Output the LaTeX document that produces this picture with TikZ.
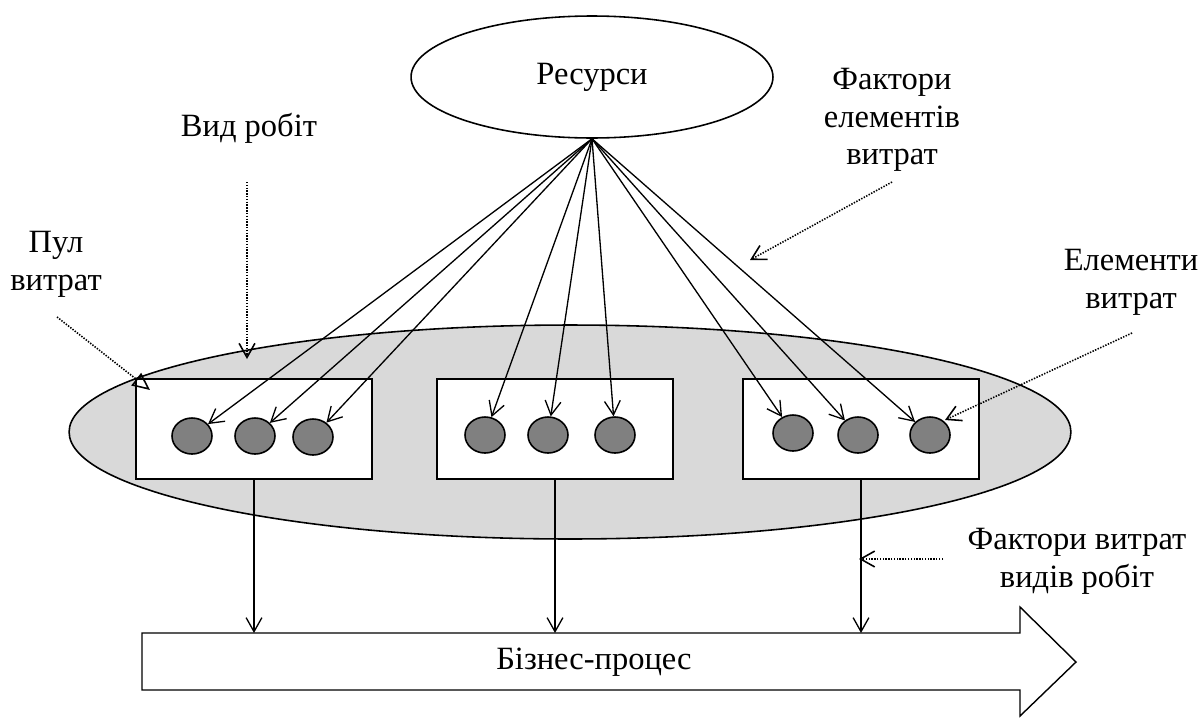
\documentclass[tikz,border=0pt]{standalone}
\usepackage{fontspec}
\setmainfont{Liberation Serif}
\usetikzlibrary{arrows.meta,shapes.geometric}

\tikzset{
	lbl/.style={align=center, font=\fontsize{18.5}{21.5}\selectfont},
	fan/.style={-{Straight Barb[length=8pt,width=9pt]}, line width=0.75pt},
	note/.style={-{Straight Barb[length=8pt,width=9pt]}, line width=0.9pt, dash pattern=on 0.8pt off 0.8pt},
	dot/.style={ellipse, draw, fill=gray, minimum width=0.8cm, minimum height=0.72cm, inner sep=0pt, line width=0.9pt},
	costbox/.style={draw, fill=white, minimum width=4.72cm, minimum height=2cm, line width=1pt}
}

\begin{document}
\begin{tikzpicture}[x=0.02cm, y=-0.02cm]
		\useasboundingbox (0,0) rectangle (1202,717);
		\node[ellipse, draw, fill=gray!30, minimum width=20.04cm, minimum height=4.28cm, line width=0.9pt] (pool) at (570,432) {};
		\node[ellipse, draw, lbl, minimum width=7.24cm, minimum height=2.44cm, inner sep=0pt, line width=0.9pt] (res) at (592,77) {Ресурси};
		\foreach \n/\x in {b1/254, b2/555, b3/861}
			\node[costbox] (\n) at (\x, 429) {};
		\foreach \n/\x/\y in {c11/192/436, c12/255/436, c13/313/437, c21/485/435, c22/548/435, c23/615/435, c31/793/433, c32/858/435, c33/930/435}
			\node[dot] (\n) at (\x, \y) {};
		\foreach \n in {c11, c12, c13, c21, c22, c23, c31, c32, c33}
			\draw[fan] (res.south) -- (\n);
		\draw[line width=0.8pt, fill=white] (142,633) -- (1020,633) -- (1020,607) -- (1076,662) -- (1020,716) -- (1020,690) -- (142,690) -- cycle;
		\node[lbl] (bp) at (594,662) {Бізнес-процес};
		\coordinate (bptop) at (0,633);
		\foreach \n in {b1, b2, b3}
			\draw[fan] (\n.south) -- (\n.south |- bptop);
		\node[lbl] (vid) at (249,128) {Вид робіт};
		\node[lbl] (pul) at (56,264) {Пул\\витрат};
		\node[lbl] (fel) at (892,120) {Фактори\\елементів\\витрат};
		\node[lbl] (elem) at (1131,282) {Елементи\\витрат};
		\node[lbl] (fvid) at (1077,561) {Фактори витрат\\видів робіт};
		\coordinate (vid0) at (247,182);
		\coordinate (vid1) at (247,359);
		\coordinate (pul0) at (57,317);
		\coordinate (pul1) at (150,390);
		\coordinate (fel0) at (892,182);
		\coordinate (fel1) at (750,260);
		\coordinate (elem0) at (1132,333);
		\coordinate (elem1) at (945,420);
		\coordinate (fvid0) at (943,559);
		\coordinate (fvid1) at (859,559);
		\draw[note] (vid0) -- (vid1);
		\draw[note, -{Triangle[open, length=10pt, width=9pt]}] (pul0) -- (pul1);
		\draw[note] (fel0) -- (fel1);
		\draw[note] (elem0) -- (elem1);
		\draw[note] (fvid0) -- (fvid1);
	\end{tikzpicture}
\end{document}
